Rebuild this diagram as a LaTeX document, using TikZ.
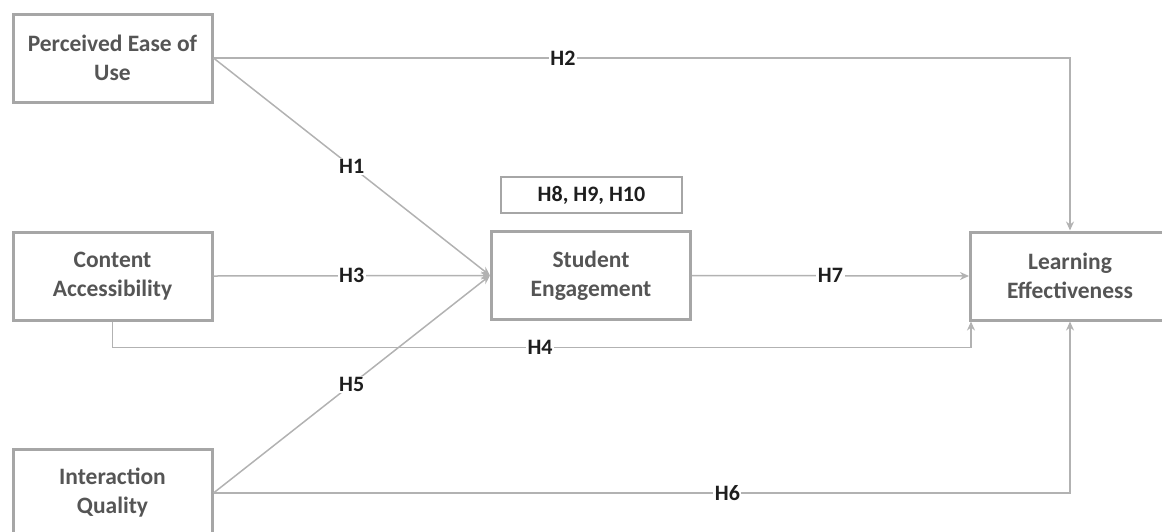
\documentclass[tikz,border=0pt]{standalone}
\usepackage{fontspec}
\setmainfont{Carlito}
\usetikzlibrary{arrows.meta}
\definecolor{boxgray}{RGB}{166,166,166}
\definecolor{linegray}{RGB}{178,178,178}
\definecolor{txtgray}{RGB}{85,85,85}
\definecolor{labblack}{RGB}{30,30,30}

\begin{document}
\begin{tikzpicture}[x=1pt,y=-1pt,
  construct/.style={draw=boxgray, line width=3pt, fill=white, minimum width=199pt,
    minimum height=88pt, align=center, text=txtgray,
    font=\fontsize{23.5}{29}\selectfont\bfseries},
  path/.style={draw=linegray, line width=1.5pt, -{Stealth[length=9pt,width=8pt]}},
  hyp/.style={fill=white, inner sep=1.5pt, text=labblack,
    font=\fontsize{22}{26}\selectfont\bfseries}]
\useasboundingbox (0,0) rectangle (1162,531);
% constructs
\node[construct] (peou) at (112.5,58) {Perceived Ease of\\Use};
\node[construct] (ca) at (112.5,276) {Content\\Accessibility};
\node[construct] (iq) at (112.5,493) {Interaction\\Quality};
\node[construct] (se) at (591,275.5) {Student\\Engagement};
\node[construct] (le) at (1070,276) {Learning\\Effectiveness};
\node[draw=boxgray, line width=1.5pt, minimum width=181pt, minimum height=36pt,
  text=labblack, font=\fontsize{22}{26}\selectfont\bfseries] (med) at (591.5,195) {H8, H9, H10};
% hypotheses
\draw[path] (peou.east) -- node[hyp] {H1} (se.west);
\draw[path] (peou.east) -| node[hyp, pos=0.204] {H2} (le.north);
\draw[path] (ca.east) -- node[hyp] {H3} (se.west);
\draw[draw=linegray, line width=1.5pt] (ca.south) -- ([yshift=-26pt]ca.south);
\draw[path] ([yshift=-26pt]ca.south) -| node[hyp, pos=0.249] {H4} ([xshift=2pt]le.south west);
\draw[path] (iq.east) -- node[hyp] {H5} (se.west);
\draw[path] (iq.east) -| node[hyp, pos=0.30] {H6} (le.south);
\draw[path] (se.east) -- node[hyp] {H7} (le.west);
\end{tikzpicture}
\end{document}
